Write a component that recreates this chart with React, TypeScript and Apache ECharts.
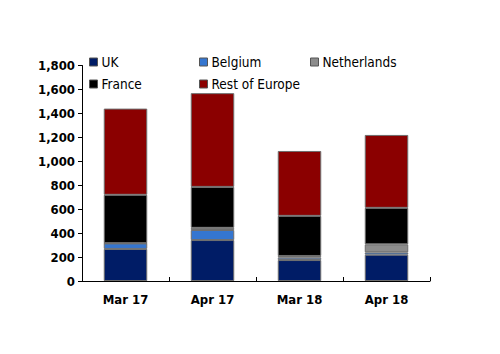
import React, { useEffect, useRef } from "react";
import * as echarts from "echarts";

const categories = ["Mar 17", "Apr 17", "Mar 18", "Apr 18"];
const seriesNames = ["UK", "Belgium", "Netherlands", "France", "Rest of Europe"];
const ukValues = [268, 342, 175, 220];
const belgiumValues = [46, 84, 20, 19];
const netherlandsValues = [2, 18, 14, 67];
const franceValues = [404, 342, 335, 305];
const restValues = [720, 783, 542, 609];
const yTicks = [0, 200, 400, 600, 800, 1000, 1200, 1400, 1600, 1800];

const colors = ["#001C66", "#3576D0", "#8C8C8C", "#000000", "#8B0000"];
const FONT = "'DejaVu Sans Condensed', 'DejaVu Sans', sans-serif";

export default function App() {
  const ref = useRef<HTMLDivElement>(null);
  useEffect(() => {
    if (!ref.current) return;
    const chart = echarts.init(ref.current, null, { renderer: "svg" });
    const values = [ukValues, belgiumValues, netherlandsValues, franceValues, restValues];
    const legendPos = [
      { left: 89, top: 55 },
      { left: 199, top: 55 },
      { left: 310, top: 55 },
      { left: 89, top: 77 },
      { left: 199, top: 77 },
    ];
    chart.setOption({
      animation: false,
      legend: seriesNames.map((n, i) => ({
        data: [n],
        left: legendPos[i].left,
        top: legendPos[i].top,
        itemWidth: 8,
        itemHeight: 8,
        itemGap: 0,
        padding: 0,
        icon: "rect",
        textStyle: { fontFamily: FONT, fontSize: 13.5, color: "#000", padding: [0, 0, 0, -1] },
        itemStyle: { borderColor: "#555", borderWidth: 1 },
        selectedMode: false,
      })),
      grid: { left: 82, right: 70, top: 65.5, bottom: 73, containLabel: false },
      xAxis: {
        type: "category",
        data: categories,
        axisLine: { lineStyle: { color: "#000", width: 1 } },
        axisTick: { show: true, alignWithLabel: false, length: 4, inside: true, lineStyle: { color: "#000" } },
        axisLabel: { fontFamily: FONT, fontSize: 13, fontWeight: "bold", color: "#000", margin: 12 },
      },
      yAxis: {
        type: "value",
        min: 0,
        max: 1800,
        interval: 200,
        splitLine: { show: false },
        axisLine: { show: true, lineStyle: { color: "#000", width: 1 } },
        axisTick: { show: true, length: 4, lineStyle: { color: "#000" } },
        axisLabel: {
          fontFamily: FONT,
          fontSize: 13,
          fontWeight: "bold",
          color: "#000",
          margin: 7,
          formatter: (v: number) => (yTicks.includes(v) ? v.toLocaleString("en-US") : ""),
        },
      },
      series: seriesNames.map((n, i) => ({
        name: n,
        type: "bar",
        stack: "total",
        barWidth: "50%",
        data: values[i],
        itemStyle: { color: colors[i], borderColor: "#6E6E6E", borderWidth: 1 },
      })),
    });
    return () => chart.dispose();
  }, []);
  return <div ref={ref} style={{ width: 500, height: 354, position: "absolute", left: 0, top: 0 }} />;
}
